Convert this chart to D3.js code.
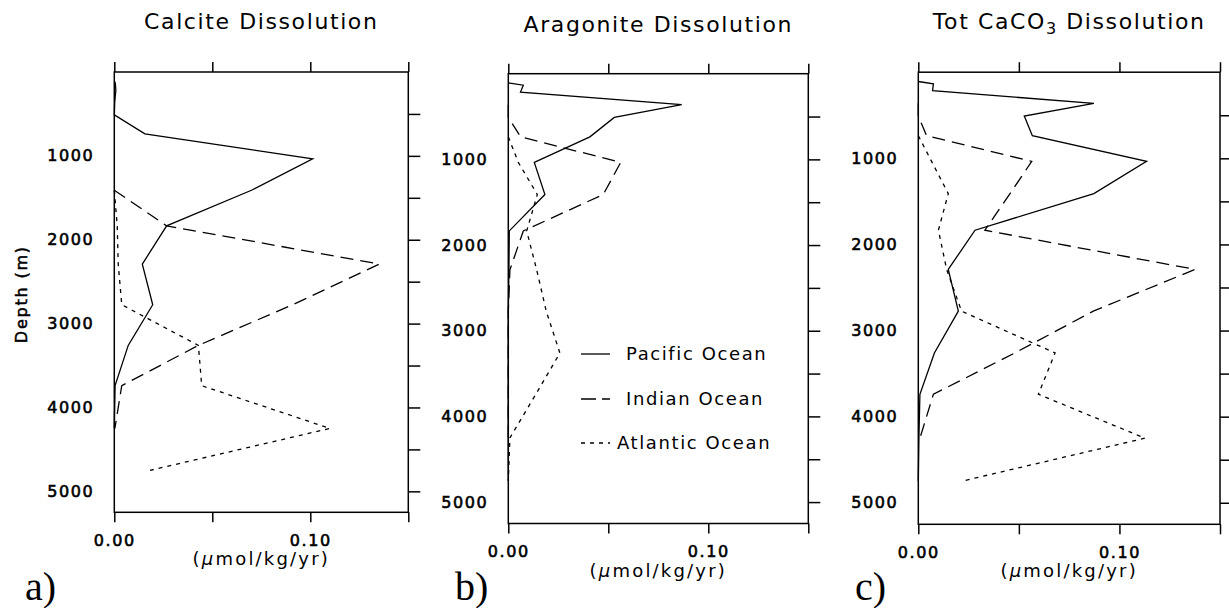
<!DOCTYPE html>
<html>
<head>
<meta charset="utf-8">
<script src="https://cdn.jsdelivr.net/npm/d3@7"></script>
<style>
  body { margin: 0; background: #fff; }
  svg { display: block; }
  text { font-family: "DejaVu Sans", sans-serif; fill: #000; }
</style>
</head>
<body>
<div id="chart"></div>
<script>
// model depth levels (m)
const depths = [108, 134, 215, 362, 510, 737, 1035, 1410, 1835, 2290, 2775, 3260, 3740, 4250, 4750];

// dissolution rates (umol/kg/yr), null = not drawn
const calcitePacific  = [0, 0.0005, 0.0008, 0.0002, 0, 0.0156, 0.1012, 0.070, 0.0267, 0.0143, 0.0196, 0.0071, 0.0004, 0, null];
const calciteIndian   = [null, null, null, null, null, null, null, 0, 0.0267, 0.1352, 0.091, 0.0429, 0.0038, 0.0003, null];
const calciteAtlantic = [null, null, null, null, null, null, null, 0, 0.0015, 0.002, 0.0038, 0.0429, 0.0446, 0.110, 0.0182];

const aragonitePacific  = [0, 0.0075, 0.0061, 0.0867, 0.053, 0.0408, 0.013, 0.0183, 0.0005, 0.0003, 0, 0, 0, 0, 0];
const aragoniteIndian   = [null, null, null, 0, 0, 0.0062, 0.0562, 0.0475, 0.0075, 0.0008, 0, 0, 0, 0, null];
const aragoniteAtlantic = [null, null, null, null, null, 0, 0.005, 0.0145, 0.0092, 0.0142, 0.019, 0.0258, 0.0138, 0.0008, 0];

const totalPacific  = [0, 0.0075, 0.0071, 0.0873, 0.0527, 0.0567, 0.1135, 0.0873, 0.0282, 0.0149, 0.0199, 0.008, 0.0008, 0.0003, 0];
const totalIndian   = [null, null, null, 0, 0, 0.0041, 0.0564, 0.0456, 0.0331, 0.1376, 0.087, 0.048, 0.0075, 0.0008, null];
const totalAtlantic = [null, null, null, null, null, 0, 0.0066, 0.0149, 0.0100, 0.0141, 0.0215, 0.068, 0.0597, 0.1127, 0.0215];

const seriesNames = ["Pacific Ocean", "Indian Ocean", "Atlantic Ocean"];
const xTicks = [0, 0.05, 0.10, 0.15];
const xLabelTicks = [0, 0.10];
const yLabelTicks = [1000, 2000, 3000, 4000, 5000];
const yMinorTicks = d3.range(500, 5001, 500);

const dashes = [null, "13,7", "4,5"];

const svg = d3.select("#chart").append("svg")
    .attr("width", 1229)
    .attr("height", 608);

const panels = [
    { title: ["Calcite Dissolution"], tag: "a)", tagX: 25, left: 114.3, right: 408.3, top: 72, bottom: 512.3, titleY: 29,
      series: [calcitePacific, calciteIndian, calciteAtlantic] },
    { title: ["Aragonite Dissolution"], tag: "b)", tagX: 455, left: 508.3, right: 808.3, top: 73.7, bottom: 523.5, titleY: 32,
      series: [aragonitePacific, aragoniteIndian, aragoniteAtlantic] },
    { title: ["Tot CaCO", "3", " Dissolution"], tag: "c)", tagX: 855, left: 918.3, right: 1220, top: 72.2, bottom: 524.3, titleY: 29,
      series: [totalPacific, totalIndian, totalAtlantic] }
];

panels.forEach(function(p, pi) {
    const x = d3.scaleLinear().domain([0, 0.15]).range([p.left, p.right]);
    const y = d3.scaleLinear().domain([0, 5250]).range([p.top, p.bottom]);
    const g = svg.append("g");

    // frame
    g.append("rect")
        .attr("x", p.left).attr("y", p.top)
        .attr("width", p.right - p.left).attr("height", p.bottom - p.top)
        .attr("fill", "none").attr("stroke", "#000").attr("stroke-width", 1.5);

    // top ticks
    g.append("g")
        .attr("transform", `translate(0,${p.top})`)
        .call(d3.axisTop(x).tickValues(xTicks).tickSize(10).tickSizeOuter(0).tickFormat(""))
        .call(a => a.select(".domain").remove());

    // bottom ticks + labels
    g.append("g")
        .attr("class", "xb")
        .attr("transform", `translate(0,${p.bottom})`)
        .call(d3.axisBottom(x).tickValues(xTicks).tickSize(10).tickSizeOuter(0).tickPadding(12.5)
            .tickFormat(d => xLabelTicks.includes(d) ? d3.format(".2f")(d) : ""))
        .call(a => a.select(".domain").remove());

    // right ticks
    g.append("g")
        .attr("transform", `translate(${p.right},0)`)
        .call(d3.axisRight(y).tickValues(yMinorTicks).tickSize(12).tickSizeOuter(0).tickFormat(""))
        .call(a => a.select(".domain").remove());

    // left labels, no ticks
    g.append("g")
        .attr("class", "yl")
        .attr("transform", `translate(${p.left},0)`)
        .call(d3.axisLeft(y).tickValues(yLabelTicks).tickSize(0).tickPadding(20).tickFormat(d3.format("d")))
        .call(a => a.select(".domain").remove());

    g.selectAll(".tick line").attr("stroke", "#000").attr("stroke-width", 1.5);
    g.selectAll(".xb text, .yl text")
        .style("font-family", '"DejaVu Sans", sans-serif')
        .style("font-size", "16px")
        .attr("letter-spacing", 1.6)
        .attr("fill", "#000")
        .attr("stroke", "#000")
        .attr("stroke-width", 0.6);

    // profiles
    const line = d3.line()
        .defined(d => d.v != null)
        .x(d => x(d.v))
        .y(d => y(d.z));

    p.series.forEach(function(vals, si) {
        const pts = depths.map((z, i) => ({ z: z, v: vals[i] }));
        g.append("path")
            .datum(pts)
            .attr("d", line)
            .attr("fill", "none")
            .attr("stroke", "#000")
            .attr("stroke-width", 1.3)
            .attr("stroke-dasharray", dashes[si]);
    });

    // title
    const t = g.append("text")
        .attr("x", (p.left + p.right) / 2)
        .attr("y", p.titleY)
        .attr("text-anchor", "middle")
        .attr("letter-spacing", 1.6)
        .style("font-size", "22px");
    if (p.title.length === 1) {
        t.text(p.title[0]);
    } else {
        t.append("tspan").text(p.title[0]);
        t.append("tspan").attr("dy", 5).style("font-size", "16px").text(p.title[1]);
        t.append("tspan").attr("dy", -5).text(p.title[2]);
    }

    // unit label
    const u = g.append("text")
        .attr("x", (p.left + p.right) / 2)
        .attr("y", p.bottom + 53)
        .attr("text-anchor", "middle")
        .attr("letter-spacing", 2.2)
        .style("font-size", "18px");
    u.append("tspan").text("(");
    u.append("tspan").style("font-style", "italic").text("\u03bc");
    u.append("tspan").text("mol/kg/yr)");

    // panel tag
    g.append("text")
        .attr("x", p.tagX)
        .attr("y", 600)
        .style("font-family", '"Liberation Serif", serif')
        .style("font-size", "40px")
        .text(p.tag);

    if (pi === 0) {
        g.append("text")
            .attr("transform", `translate(27,${(p.top + p.bottom) / 2 + 2}) rotate(-90)`)
            .attr("text-anchor", "middle")
            .attr("letter-spacing", 1.8)
            .attr("stroke", "#000")
            .attr("stroke-width", 0.5)
            .style("font-size", "16px")
            .text("Depth (m)");
    }

    // legend in the middle panel
    if (pi === 1) {
        const legY = [354, 399, 443];
        const legTextX = [626, 626, 617];
        seriesNames.forEach(function(name, si) {
            g.append("line")
                .attr("x1", 581).attr("x2", 610)
                .attr("y1", legY[si]).attr("y2", legY[si])
                .attr("stroke", "#000").attr("stroke-width", 1.3)
                .attr("stroke-dasharray", si === 1 ? "15,6" : dashes[si]);
            g.append("text")
                .attr("x", legTextX[si])
                .attr("y", legY[si])
                .attr("dy", "0.36em")
                .attr("letter-spacing", 1.6)
                .attr("fill", "#222")
                .style("font-size", "18px")
                .text(name);
        });
    }
});
</script>
</body>
</html>
